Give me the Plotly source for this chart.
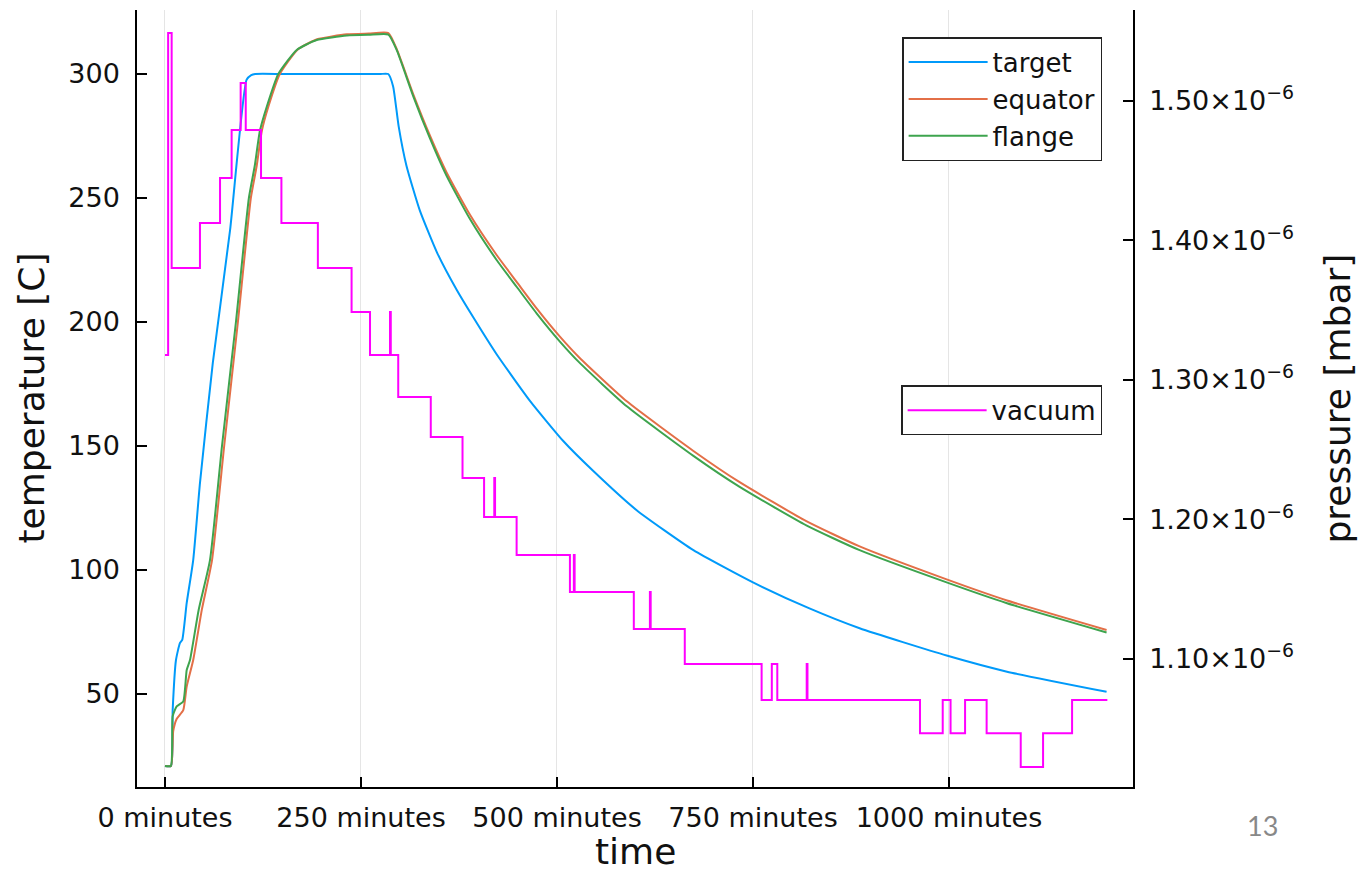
import plotly.graph_objects as go

# ---------------- data ----------------
target_t = [0, 7.7, 9.8, 14, 19, 22, 27.7, 36, 44.6, 61, 83, 104, 110, 115, 150, 200, 250, 275, 284.8,
            291, 298, 308, 325, 347, 372, 393, 423, 466, 508, 546, 602, 674, 750, 822,
            886, 997, 1074, 1201]
target_T = [21, 21, 43.5, 63.7, 70.5, 71.8, 86.7, 104, 135, 183.5, 237, 297.6, 299.5, 300, 300, 300, 300, 300, 300,
            295, 279, 263, 245, 228, 213, 202, 187, 168, 152, 140, 124, 108, 95, 84.5,
            76.5, 65.5, 59, 50.9]

equator_t = [0, 7.7, 10.5, 15, 23.3, 27.7, 36, 47, 60, 75.5, 93, 109.5, 117, 123.5, 132, 146.5,
             169, 194, 232, 260, 285, 295.5, 316.7, 338, 359, 389, 423, 449, 474, 504, 529, 589,
             674, 733, 818, 886, 997, 1074, 1201]
equator_T = [21, 21, 35, 40, 43.5, 53, 63.7, 84, 104, 150, 200, 250, 263, 277, 287, 300,
             309.8, 314, 316, 316.3, 316.5, 310.1, 291.8, 275.1, 260.4, 243.2, 227, 216, 205.5, 194, 185.5, 168,
             148, 135.4, 119.7, 109.5, 96.2, 87.7, 75.8]

flange_t = [0, 7.5, 9.8, 14.9, 23.3, 27.7, 31.9, 43, 57.4, 72.7, 90.5, 107, 114.5, 121, 130, 144.5,
            168, 193.5, 232, 260, 285, 295.5, 316.7, 338, 359, 389, 423, 449, 474, 504, 529, 589,
            674, 733, 818, 886, 997, 1074, 1201]
flange_T = [21, 21, 41, 45, 47, 59.7, 63.7, 84, 104, 150, 200, 250, 263, 277, 287, 300,
            309.7, 313.7, 315.5, 315.8, 315.9, 309.7, 291, 274, 259, 241.5, 225, 214, 203.5, 192, 183.5, 166,
            146, 133.5, 118, 108, 95, 86.6, 74.8]

vacuum_t = [0, 4, 8.5, 44.6, 70.2, 85, 96.5, 103, 122.5, 148.5,
            195, 238, 261.5, 287, 288, 297.5, 339, 379.5, 407, 420,
            421, 448.5, 516.5, 521.5, 522.5, 598, 618.5, 619.5, 663, 761,
            774, 781, 818.5, 819.5, 963, 992, 1002, 1020.5, 1048, 1091.5,
            1120, 1157, 1202]
vacuum_p = [1.3179e-6, 1.5487e-6, 1.3803e-6, 1.4125e-6, 1.4448e-6, 1.4792e-6, 1.5129e-6, 1.4792e-6, 1.4448e-6, 1.4125e-6,
            1.3803e-6, 1.3487e-6, 1.3179e-6, 1.3487e-6, 1.3179e-6, 1.2878e-6, 1.2591e-6, 1.2297e-6, 1.2018e-6, 1.2297e-6,
            1.2018e-6, 1.1746e-6, 1.1480e-6, 1.1746e-6, 1.1480e-6, 1.1215e-6, 1.1480e-6, 1.1215e-6, 1.0964e-6, 1.0706e-6,
            1.0964e-6, 1.0706e-6, 1.0964e-6, 1.0706e-6, 1.0467e-6, 1.0706e-6, 1.0467e-6, 1.0706e-6, 1.0467e-6, 1.0226e-6,
            1.0467e-6, 1.0706e-6, 1.0706e-6]

x_tickvals = [0, 250, 500, 750, 1000]
x_ticktext = ["0 minutes", "250 minutes", "500 minutes", "750 minutes", "1000 minutes"]
y_tickvals = [50, 100, 150, 200, 250, 300]
y2_tickvals = [1.10e-6, 1.20e-6, 1.30e-6, 1.40e-6, 1.50e-6]
y2_ticktext = ["1.10×10<sup>−6</sup>", "1.20×10<sup>−6</sup>", "1.30×10<sup>−6</sup>",
               "1.40×10<sup>−6</sup>", "1.50×10<sup>−6</sup>"]

FONT = "DejaVu Sans"
BLUE, RED, GREEN, MAGENTA = "#009AFA", "#E36F47", "#3EA44E", "#FF00FF"

fig = go.Figure()
for name, t, T, c in [("target", target_t, target_T, BLUE),
                      ("equator", equator_t, equator_T, RED),
                      ("flange", flange_t, flange_T, GREEN)]:
    fig.add_trace(go.Scatter(x=t, y=T, mode="lines", name=name,
                             line=dict(color=c, width=2, shape="spline", smoothing=0.5),
                             legend="legend"))
fig.add_trace(go.Scatter(x=vacuum_t, y=vacuum_p, mode="lines", name="vacuum",
                         line=dict(color=MAGENTA, width=2, shape="hv"),
                         yaxis="y2", legend="legend2"))

axis_common = dict(ticks="inside", ticklen=10, tickwidth=1.5, tickcolor="black",
                   showline=True, linecolor="black", linewidth=1.5, zeroline=False,
                   automargin=False,
                   tickfont=dict(family=FONT, size=27, color="#111"))

L, T_ = 137, 10
PW, PH = 996, 777


def px(x):
    return (x - L) / PW


def py(y):
    return (T_ + PH - y) / PH


fig.update_layout(
    width=1358, height=873,
    margin=dict(l=137, r=225, t=10, b=86),
    plot_bgcolor="white", paper_bgcolor="white",
    font=dict(family=FONT, color="#111"),
    xaxis=dict(range=[-35.7, 1234.7], tickvals=x_tickvals, ticktext=x_ticktext,
               showgrid=True, gridcolor="rgba(0,0,0,0.1)", gridwidth=1,
               ticklabelstandoff=6, **axis_common),
    yaxis=dict(range=[12.5, 325.8], tickvals=y_tickvals, showgrid=False,
               ticklabelstandoff=10, **axis_common),
    yaxis2=dict(range=[1.0082e-6, 1.5652e-6], tickvals=y2_tickvals, ticktext=y2_ticktext,
                overlaying="y", side="right", showgrid=False,
                ticklabelstandoff=9, **axis_common),
    legend=dict(x=0.969, y=0.965, xanchor="right", yanchor="top",
                bgcolor="white", bordercolor="#222", borderwidth=1.5,
                font=dict(family=FONT, size=26, color="#111"), itemwidth=79,
                tracegroupgap=0),
    legend2=dict(x=0.969, y=0.517, xanchor="right", yanchor="top",
                 bgcolor="white", bordercolor="#222", borderwidth=1.5,
                 font=dict(family=FONT, size=26, color="#111"), itemwidth=79),
    annotations=[
        dict(text="time", x=0.5, y=py(852), xref="paper", yref="paper",
             xanchor="center", yanchor="middle", showarrow=False,
             font=dict(family=FONT, size=36, color="#111")),
        dict(text="temperature [C]", x=px(31), y=0.5, xref="paper", yref="paper",
             xanchor="center", yanchor="middle", textangle=-90, showarrow=False,
             font=dict(family=FONT, size=36, color="#111")),
        dict(text="pressure [mbar]", x=px(1337), y=0.5, xref="paper", yref="paper",
             xanchor="center", yanchor="middle", textangle=-90, showarrow=False,
             font=dict(family=FONT, size=36, color="#111")),
        dict(text="13", x=px(1262), y=py(826), xref="paper", yref="paper",
             xanchor="center", yanchor="middle", showarrow=False,
             font=dict(family="Lato", size=27, color="#888")),
    ],
)

fig.write_html("out.html", config={"displayModeBar": False},
               post_script="document.body.style.margin='0px';")
